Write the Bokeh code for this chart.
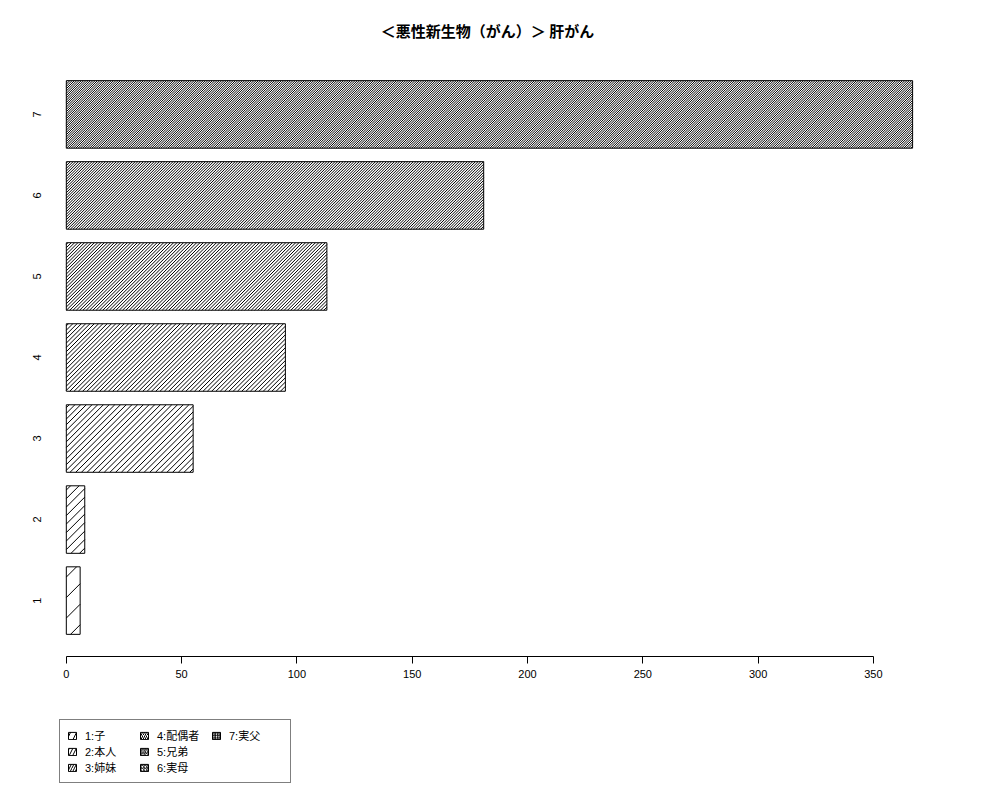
from bokeh.plotting import figure
from bokeh.models import ColumnDataSource, Legend, LegendItem, FixedTicker, Title, Range1d
from bokeh.layouts import column
from bokeh.core.properties import value
from bokeh.embed import file_html
from bokeh.resources import INLINE
import math

# ---- data ----
categories = ["1", "2", "3", "4", "5", "6", "7"]
counts = [6, 8, 55, 95, 113, 181, 367]
legend_labels = ["1:子", "2:本人", "3:姉妹", "4:配偶者", "5:兄弟", "6:実母", "7:実父"]
title_text = "＜悪性新生物（がん）＞ 肝がん"
x_ticks = [0, 50, 100, 150, 200, 250, 300, 350]

# ---- styles ----
hatch_spacing_px = [20.5, 8.5, 5.7, 4.3, 3.3, 2.7, 2.3]   # shading density per bar
legend_hatch_scale = [12, 7, 5, 4, 3.5, 3, 2.5]
JP = "Noto Sans CJK JP"
LAT = "Liberation Sans"
MIX = "Liberation Sans, 'Noto Sans CJK JP'"

# ---- layout ----
X0, X1 = -16.4, 381.7
Y0, Y1 = -0.128, 8.728
FW, FH = 918, 598
sx = FW / (X1 - X0)
sy = FH / (Y1 - Y0)

# R barplot layout: width 1, space 0.2
bar_h = 1.0
centers = [0.7 + 1.2 * i for i in range(len(categories))]

src = ColumnDataSource(dict(
    y=centers, right=counts, zero=[0] * len(counts), cat=categories,
    lab=legend_labels, hs=legend_hatch_scale,
    lx=[-12.9] * len(categories),
))

# 45-degree shading lines inside each bar (like R's density shading)
hx0, hy0, hx1, hy1 = [], [], [], []
for c, v, s in zip(centers, counts, hatch_spacing_px):
    W = v * sx
    H = bar_h * sy
    k = -H + s * 0.5
    while k < W:
        wlo = max(0.0, -k)
        whi = min(H, W - k)
        if whi > wlo:
            hx0.append((wlo + k) / sx)
            hy0.append(c - bar_h / 2 + wlo / sy)
            hx1.append((whi + k) / sx)
            hy1.append(c - bar_h / 2 + whi / sy)
        k += s
hsrc = ColumnDataSource(dict(x0=hx0, y0=hy0, x1=hx1, y1=hy1))

p = figure(
    output_backend="svg", toolbar_location=None,
    frame_width=FW, frame_height=FH,
    min_border_left=28, min_border_right=38, min_border_top=58, min_border_bottom=40,
    x_range=Range1d(X0, X1), y_range=Range1d(Y0, Y1),
    background_fill_color="white", border_fill_color="white",
)
p.outline_line_color = None
p.grid.visible = False
p.yaxis.visible = False

p.segment(x0="x0", y0="y0", x1="x1", y1="y1", source=hsrc,
          line_color="black", line_width=1)

p.hbar(y="y", left=0, right="right", height=bar_h, source=src,
       fill_color=None, line_color="black", line_width=1)

# category labels (rotated, like R las=0)
p.text(x="lx", y="y", text="cat", source=src, angle=math.pi / 2,
       text_align="center", text_baseline="middle",
       text_font=value(LAT), text_font_size="11px", text_color="black")

xa = p.xaxis[0]
xa.ticker = FixedTicker(ticks=x_ticks)
xa.bounds = (0, 350)
xa.axis_line_color = "black"
xa.axis_line_width = 1
xa.major_tick_out = 7
xa.major_tick_in = 0
xa.minor_tick_line_color = None
xa.major_tick_line_color = "black"
xa.major_label_standoff = 6
xa.major_label_text_font = LAT
xa.major_label_text_font_size = "11px"
xa.major_label_text_color = "black"

p.title = Title(text=title_text, align="center", text_font=JP,
                text_font_size="15px", text_font_style="bold",
                text_color="black", standoff=35)

# ---- legend strip below the plot ----
LH = 88
q = figure(
    output_backend="svg", toolbar_location=None,
    frame_width=984, frame_height=LH,
    min_border=0, x_range=Range1d(0, 1), y_range=Range1d(0, 1),
    background_fill_color="white", border_fill_color="white",
)
q.outline_line_color = None
q.axis.visible = False
q.grid.visible = False

leg_r = q.hbar(y="y", left="zero", right="zero", height=bar_h, source=src,
               fill_color="white", line_color="black", line_width=1,
               hatch_pattern="/", hatch_scale="hs", hatch_color="black",
               hatch_weight=1, visible=False)

items = [LegendItem(label=legend_labels[i], renderers=[leg_r], index=i)
         for i in range(len(legend_labels))]
legend = Legend(items=items, location=(59, 1), nrows=3,
                orientation="vertical",
                glyph_width=10, glyph_height=9, label_height=13,
                label_width=54,
                label_standoff=8, spacing=0, padding=7, margin=0,
                label_text_font=MIX, label_text_font_size="11px",
                label_text_color="black",
                inactive_fill_alpha=0.0,
                border_line_color="black", border_line_width=1,
                background_fill_color="white", background_fill_alpha=1.0)
q.add_layout(legend, "center")

layout = column(p, q, spacing=0)
open("out.html", "w").write(file_html(layout, INLINE))
